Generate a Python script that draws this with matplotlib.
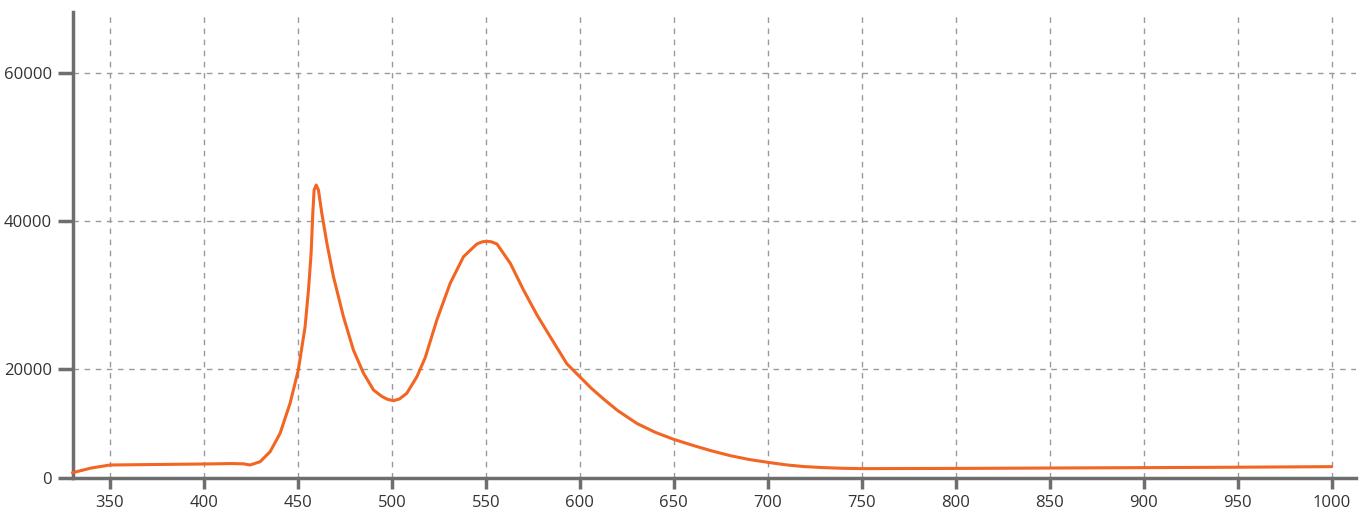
import numpy as np
import matplotlib
matplotlib.use("Agg")
import matplotlib.pyplot as plt

# spectrum (wavelength, intensity)
wavelength = [330, 340, 350, 375, 400, 415, 421, 424.5, 429.9, 435.2, 440.5, 445.8,
              450.2, 453.8, 455.6, 457.0, 457.9, 458.6, 459.7, 460.9, 462.7,
              465.4, 468.9, 474.2, 479.5, 484.9, 490.2, 494.5, 497.5, 500.8, 504,
              507.9, 513.3, 517.7, 523.9, 531.0, 538.1, 545.2, 548, 550.5, 553,
              555.9, 563.0, 570.0, 577.2, 584.2, 593.1, 600.2, 606, 612.6, 620,
              630.4, 640, 649.9, 660, 669.4, 680, 690, 700.5, 710, 719.1, 730,
              740, 750, 800, 850, 900, 950, 1000]
intensity = [970, 1835, 2385, 2480, 2570, 2650, 2600, 2385, 2990, 4830, 8200, 13700,
             19820, 25720, 30680, 35630, 41040, 44190, 44860, 44190, 41040,
             36990, 32470, 27070, 22570, 19210, 16150, 15000, 14450, 14180, 14500,
             15540, 18590, 21520, 26620, 31580, 35180, 36890, 37180, 37260, 37180,
             36890, 34280, 30680, 27300, 24370, 20700, 18500, 16500, 14500, 12400,
             10000, 8400, 7100, 6000, 5050, 4100, 3400, 2850, 2400, 2100, 1900,
             1780, 1720, 1760, 1830, 1900, 1980, 2080]

x_ticks = list(range(350, 1001, 50))
y_ticks = [0, 20000, 40000, 60000]

line_color = "#F26522"
axis_color = "#6E6E6E"
grid_color = "#9A9A9A"
text_color = "#333333"

plt.rcParams['font.family'] = ['Open Sans', 'DejaVu Sans']


# y axis in the reference is stretched: 0..20000 is shorter than the other steps
def fwd(v):
    v = np.asarray(v, dtype=float)
    return np.where(v <= 20000, v * 109.0 / 20000, 109.0 + (v - 20000) * 148.0 / 20000)


def inv(p):
    p = np.asarray(p, dtype=float)
    return np.where(p <= 109.0, p * 20000 / 109.0, 20000 + (p - 109.0) * 20000 / 148.0)


fig = plt.figure(figsize=(13.67, 5.16), dpi=100)
ax = fig.add_axes([73 / 1367, 1 - 478 / 516, (1356 - 73) / 1367, (478 - 12) / 516])
ax.set_yscale('function', functions=(fwd, inv))

ax.plot(wavelength, intensity, color=line_color, lw=2.2, solid_capstyle='round',
        solid_joinstyle='round', zorder=3, clip_on=False)

ax.set_xlim(330.3, 1013)
ax.set_ylim(0, 68240)
ax.set_xticks(x_ticks)
ax.set_xticklabels([str(t) for t in x_ticks])
ax.set_yticks(y_ticks)
ax.set_yticklabels([str(t) for t in y_ticks])

for t in x_ticks:
    ax.axvline(t, color=grid_color, lw=1, ls=(0, (4, 4)), zorder=1)
for t in y_ticks[1:]:
    ax.axhline(t, color=grid_color, lw=1, ls=(0, (4, 4)), zorder=1)

for side in ('top', 'right'):
    ax.spines[side].set_visible(False)
for side in ('left', 'bottom'):
    ax.spines[side].set_color(axis_color)
    ax.spines[side].set_linewidth(2.5)

ax.tick_params(axis='both', colors=axis_color, width=2.5, labelcolor=text_color,
               labelsize=12)
ax.tick_params(axis='x', length=8, pad=4)
ax.tick_params(axis='y', length=11, pad=4)

fig.savefig("out.png", dpi=100)
